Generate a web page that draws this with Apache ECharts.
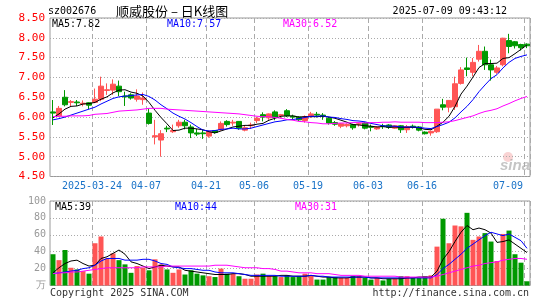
<!DOCTYPE html>
<html><head><meta charset="utf-8">
<script src="https://cdn.jsdelivr.net/npm/echarts@6/dist/echarts.min.js"></script>
<style>html,body{margin:0;padding:0;background:#fff}#c{width:545px;height:300px}</style>
</head><body><div id="c"></div>
<script>
const dates = ['2025-03-13','2025-03-14','2025-03-17','2025-03-18','2025-03-19','2025-03-20','2025-03-21','2025-03-24','2025-03-25','2025-03-26',
'2025-03-27','2025-03-28','2025-03-31','2025-04-01','2025-04-02','2025-04-03','2025-04-07','2025-04-08','2025-04-09','2025-04-10',
'2025-04-11','2025-04-14','2025-04-15','2025-04-16','2025-04-17','2025-04-18','2025-04-21','2025-04-22','2025-04-23','2025-04-24',
'2025-04-25','2025-04-28','2025-04-29','2025-04-30','2025-05-06','2025-05-07','2025-05-08','2025-05-09','2025-05-12','2025-05-13',
'2025-05-14','2025-05-15','2025-05-16','2025-05-19','2025-05-20','2025-05-21','2025-05-22','2025-05-23','2025-05-26','2025-05-27',
'2025-05-28','2025-05-29','2025-05-30','2025-06-03','2025-06-04','2025-06-05','2025-06-06','2025-06-09','2025-06-10','2025-06-11',
'2025-06-12','2025-06-13','2025-06-16','2025-06-17','2025-06-18','2025-06-19','2025-06-20','2025-06-23','2025-06-24','2025-06-25',
'2025-06-26','2025-06-27','2025-06-30','2025-07-01','2025-07-02','2025-07-03','2025-07-04','2025-07-07','2025-07-08','2025-07-09'];
const opens = [6.13,6.03,6.50,6.37,6.38,6.33,6.36,6.37,6.45,6.67, 6.68,6.78,6.53,6.56,6.45,6.44,6.10,5.50,5.42,5.72,
5.63,5.78,5.87,5.75,5.60,5.60,5.52,5.66,5.68,5.89, 5.85,5.89,5.67,5.78,5.91,6.06,5.98,6.13,6.04,6.16,
6.02,6.00,5.91,6.02,6.07,6.05,5.97,5.86,5.77,5.78, 5.81,5.82,5.85,5.76,5.70,5.78,5.80,5.72,5.78,5.68,
5.77,5.75,5.62,5.60,5.63,6.31,6.25,6.26,6.85,7.24, 7.13,7.46,7.66,7.32,7.13,7.32,7.93,7.90,7.83,7.84];
const closes = [6.10,6.22,6.31,6.39,6.36,6.35,6.30,6.45,6.78,6.69, 6.83,6.64,6.51,6.48,6.53,6.48,5.84,5.53,5.58,5.70,
5.66,5.87,5.78,5.60,5.57,5.58,5.64,5.61,5.84,5.81, 5.87,5.72,5.73,5.80,5.97,6.00,6.08,5.99,6.06,6.03,
6.00,5.93,6.01,6.08,6.05,6.03,5.85,5.82,5.83,5.81, 5.73,5.83,5.72,5.74,5.75,5.76,5.74,5.78,5.68,5.76,
5.75,5.67,5.58,5.64,6.20,6.25,6.42,6.84,7.19,7.20, 7.38,7.66,7.32,7.19,7.24,7.99,7.78,7.80,7.75,7.80];
const lows = [5.80,6.00,6.27,6.27,6.28,6.27,6.20,6.35,6.40,6.56, 6.56,6.53,6.28,6.44,6.39,6.31,5.81,5.31,5.00,5.62,
5.60,5.73,5.69,5.47,5.52,5.45,5.48,5.58,5.66,5.76, 5.78,5.68,5.64,5.70,5.85,5.89,5.93,5.92,5.97,6.00,
5.93,5.90,5.86,5.98,5.99,5.93,5.81,5.78,5.72,5.74, 5.68,5.76,5.69,5.64,5.68,5.70,5.70,5.70,5.60,5.60,
5.71,5.64,5.56,5.53,5.60,6.17,6.12,6.18,6.82,7.03, 7.03,7.40,7.19,6.92,7.09,7.28,7.61,7.73,7.68,7.74];
const highs = [6.43,6.28,6.68,6.43,6.43,6.42,6.37,6.72,7.02,6.85, 6.95,6.92,6.64,6.60,6.70,6.62,6.22,5.93,5.67,5.78,
5.81,5.93,5.93,5.81,5.70,5.68,5.66,5.67,5.89,5.92, 5.93,5.90,5.78,5.86,6.00,6.12,6.09,6.17,6.08,6.20,
6.06,6.02,6.04,6.13,6.13,6.10,6.00,5.90,5.85,5.84, 5.83,5.85,5.87,5.81,5.77,5.83,5.82,5.80,5.80,5.80,
5.81,5.77,5.64,5.66,6.20,6.46,6.43,7.02,7.26,7.50, 7.49,7.82,7.78,7.45,7.29,8.00,8.10,7.92,7.85,7.86];
const ma5 = [5.98,6.08,6.20,6.27,6.28,6.33,6.34,6.37,6.45,6.51, 6.61,6.68,6.69,6.63,6.60,6.53,6.37,6.17,5.99,5.83,
5.66,5.67,5.72,5.72,5.70,5.68,5.63,5.60,5.65,5.70, 5.75,5.77,5.79,5.79,5.82,5.84,5.92,5.97,6.02,6.03,
6.03,6.00,6.01,6.01,6.01,6.02,6.00,5.97,5.92,5.87, 5.81,5.80,5.78,5.77,5.75,5.76,5.74,5.75,5.74,5.74,
5.74,5.73,5.69,5.68,5.77,5.87,6.02,6.27,6.58,6.78, 7.01,7.25,7.35,7.35,7.36,7.48,7.50,7.60,7.71,7.82];
const ma10 = [5.93,5.96,6.00,6.05,6.10,6.15,6.20,6.25,6.33,6.40, 6.47,6.51,6.53,6.54,6.56,6.57,6.52,6.43,6.31,6.21,
6.10,6.02,5.95,5.86,5.76,5.67,5.65,5.66,5.69,5.70, 5.72,5.70,5.70,5.72,5.76,5.80,5.84,5.88,5.90,5.93,
5.94,5.96,5.99,6.02,6.02,6.03,6.00,5.99,5.96,5.94, 5.91,5.90,5.88,5.84,5.81,5.78,5.77,5.77,5.75,5.75,
5.75,5.74,5.72,5.71,5.76,5.81,5.87,5.98,6.13,6.27, 6.44,6.64,6.81,6.97,7.07,7.24,7.38,7.48,7.53,7.57];
const ma30 = [6.01,6.02,6.02,6.03,6.03,6.03,6.04,6.07,6.08,6.09, 6.12,6.15,6.16,6.17,6.18,6.20,6.22,6.22,6.22,6.20,
6.19,6.18,6.17,6.16,6.15,6.14,6.13,6.12,6.11,6.10, 6.09,6.08,6.06,6.04,6.02,6.01,6.01,5.99,5.97,5.94,
5.92,5.89,5.88,5.86,5.85,5.83,5.83,5.84,5.85,5.85, 5.86,5.86,5.85,5.86,5.86,5.87,5.87,5.88,5.87,5.87,
5.87,5.87,5.86,5.86,5.86,5.87,5.88,5.91,5.95,5.99, 6.03,6.09,6.14,6.17,6.21,6.28,6.34,6.41,6.47,6.52];
const volumes = [37,30,42,21,19,17,14,50,58,32, 38,30,25,15,23,21,18,31,25,19,
15,19,13,18,14,12,11,10,20,14, 14,11,8,8,13,14,11,11,10,12,
10,11,14,12,7,7,10,10,9,9, 11,11,9,7,9,6,8,8,11,11,
9,9,11,12,46,79,50,71,70,86, 54,58,62,52,29,61,65,37,27,5];
const volMa5 = [15,21,26,29,30,26,23,24,32,34, 38,42,37,28,26,23,20,22,24,23,
22,22,18,17,16,15,14,13,13,13, 14,14,13,11,11,11,11,11,12,12,
11,11,11,12,11,10,10,9,9,9, 10,10,10,9,9,8,8,8,8,9,
9,10,10,10,17,31,40,52,63,71, 66,68,66,62,51,52,54,49,44,39];
const volMa10 = [14,15,16,17,18,20,21,24,29,32, 32,32,30,30,30,31,31,29,26,25,
22,21,20,20,19,18,18,16,15,15, 15,14,13,12,12,12,12,12,11,11,
11,11,11,12,11,11,10,10,10,10, 10,10,10,9,9,9,9,9,9,9,
9,9,9,9,13,20,25,31,37,44, 49,54,59,63,61,59,61,57,53,44];
const volMa30 = [14,15,15,16,16,17,18,19,20,21, 21,21,21,21,21,22,22,22,22,23,
23,23,23,23,23,23,23,24,24,24, 23,22,21,21,21,20,20,19,17,17,
16,15,15,15,14,14,14,13,12,12, 12,12,11,11,11,11,11,11,10,10,
10,10,10,10,11,13,15,17,19,21, 23,24,26,27,28,30,31,32,32,31];
const tickDates = ['2025-03-24','2025-04-07','2025-04-21','2025-05-06','2025-05-19','2025-06-03','2025-06-16','2025-07-09'];
const tickLabels = ['2025-03-24','04-07','04-21','05-06','05-19','06-03','06-16','07-09'];

const RED = '#ff5555', GREEN = '#009900';
const mono = '"DejaVu Sans Mono", monospace';
const chart = echarts.init(document.getElementById('c'));
const candleData = dates.map((d, i) => [opens[i], closes[i], lows[i], highs[i]]);
const volData = volumes.map((v, i) => ({ value: v, itemStyle: { color: closes[i] >= opens[i] ? RED : GREEN } }));
const isTick = (i) => tickDates.indexOf(dates[i]) >= 0;

function xAxis(gi, showLabel) {
  return {
    type: 'category', gridIndex: gi, data: dates, boundaryGap: true,
    axisLine: { show: false }, axisTick: { show: false },
    axisLabel: {
      show: showLabel, interval: (i) => isTick(i), color: '#1a73c8', fontFamily: mono, fontSize: 10, margin: 5,
      padding: [0, 6, 0, 0],
      formatter: (v) => { const k = tickDates.indexOf(v); return k === tickDates.length - 1 ? '{last|' + tickLabels[k] + '}' : tickLabels[k]; },
      rich: { last: { padding: [0, 32, 0, 0], color: '#1a73c8', fontFamily: mono, fontSize: 10 } }
    },
    splitLine: { show: true, interval: (i) => isTick(i), lineStyle: { color: '#aaa', type: [5, 3], width: 1 } }
  };
}
function line(name, data, color, xi, yi) {
  return { name, type: 'line', xAxisIndex: xi, yAxisIndex: yi, data, symbol: 'none', silent: true,
    lineStyle: { color, width: 1 }, itemStyle: { color } };
}
function txt(text, x, y, color, size, align, font) {
  return { type: 'text', x, y, silent: true, style: { text, fill: color, font: size + 'px ' + (font || mono), textAlign: align || 'left', textVerticalAlign: 'middle' } };
}
const last = (a) => a[a.length - 1];

chart.setOption({
  animation: false,
  backgroundColor: '#fff',
  grid: [
    { left: 50, right: 15, top: 18, height: 158.5, show: true, borderColor: '#999', borderWidth: 1 },
    { left: 50, right: 15, top: 201, height: 84.5, show: true, borderColor: '#999', borderWidth: 1 }
  ],
  xAxis: [xAxis(0, true), xAxis(1, false)],
  yAxis: [
    { type: 'value', gridIndex: 0, min: 4.5, max: 8.5, interval: 0.5, axisLine: { show: false }, axisTick: { show: false },
      axisLabel: { color: '#ff0000', fontFamily: mono, fontSize: 11, margin: 5, formatter: (v) => v.toFixed(2) },
      splitLine: { lineStyle: { color: '#aaa', type: [1, 2] } } },
    { type: 'value', gridIndex: 1, min: 0, max: 100, interval: 20, axisLine: { show: false }, axisTick: { show: false },
      axisLabel: { color: '#999', fontFamily: mono, fontSize: 10, margin: 4, formatter: (v) => v === 0 ? '万' : String(v) },
      splitLine: { lineStyle: { color: '#aaa', type: [1, 2] } } }
  ],
  series: [
    { type: 'candlestick', xAxisIndex: 0, yAxisIndex: 0, data: candleData, barWidth: 5, silent: true,
      itemStyle: { color: RED, color0: GREEN, borderColor: RED, borderColor0: GREEN, borderWidth: 1 } },
    line('MA5', ma5, '#000000', 0, 0),
    line('MA10', ma10, '#0000ff', 0, 0),
    line('MA30', ma30, '#ff00ff', 0, 0),
    { type: 'bar', xAxisIndex: 1, yAxisIndex: 1, data: volData, barWidth: 5, silent: true },
    line('VMA5', volMa5, '#000000', 1, 1),
    line('VMA10', volMa10, '#0000ff', 1, 1),
    line('VMA30', volMa30, '#ff00ff', 1, 1)
  ],
  graphic: [
    txt('sz002676', 48, 11, '#000', 10),
    txt('顺威股份 – 日K线图', 116, 11, '#000', 13, 'left', '"Noto Sans CJK SC", sans-serif'),
    txt('2025-07-09 09:43:12', 507, 11, '#000', 10, 'right'),
    txt('MA5:' + last(ma5).toFixed(2), 52, 24, '#000', 10),
    txt('MA10:' + last(ma10).toFixed(2), 167, 24, '#0000ff', 10),
    txt('MA30:' + last(ma30).toFixed(2), 283, 24, '#ff00ff', 10),
    txt('MA5:' + last(volMa5), 55, 207, '#000', 10),
    txt('MA10:' + last(volMa10), 175, 207, '#0000ff', 10),
    txt('MA30:' + last(volMa30), 295, 207, '#ff00ff', 10),
    txt('Copyright 2025 SINA.COM', 50, 293.5, '#333', 10),
    txt('http://finance.sina.com.cn', 529, 293.5, '#333', 10, 'right'),
    { type: 'circle', shape: { cx: 508, cy: 157, r: 5 }, style: { fill: 'rgba(230,80,80,0.25)' }, silent: true },
    txt('sina', 500, 166, 'rgba(150,150,150,0.55)', 'italic bold 15', 'left', 'Arial, sans-serif')
  ]
});
</script>
</body></html>
